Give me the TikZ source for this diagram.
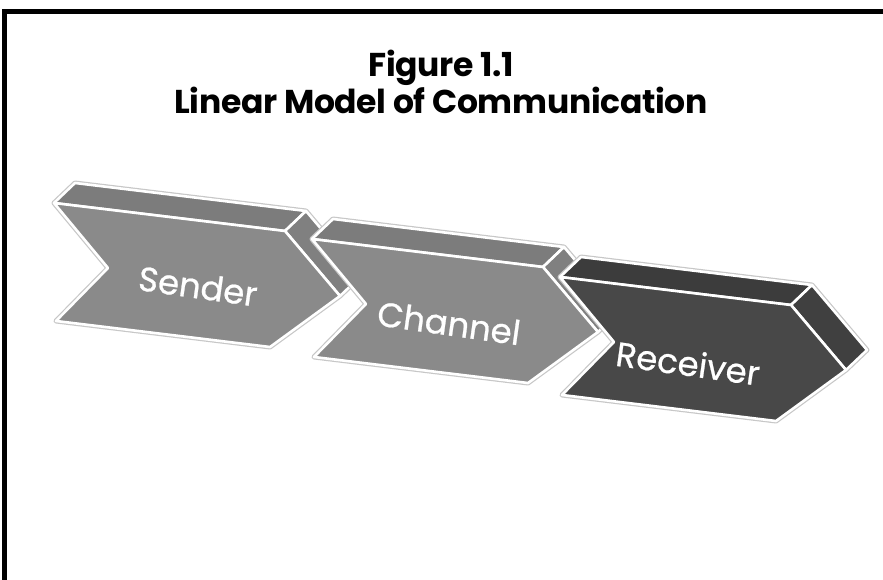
\documentclass[tikz,border=0pt]{standalone}
\usepackage{fontspec}
\setmainfont{Poppins}[Numbers=Proportional]
\newfontfamily\titlefont{Poppins}[Numbers=Proportional, LetterSpace=-1]
\newfontfamily\labelfont{Poppins}[FakeBold=0.7]
\begin{document}
\begin{tikzpicture}[x=1pt,y=-1pt,
  facestroke/.style={draw=white, line width=2.6pt, line join=round},
  halo/.style={draw=black!22, line width=5pt, line join=round},
  titlestyle/.style={font=\titlefont\fontsize{33}{36}\selectfont\bfseries, text=black, inner sep=0pt},
  chevlabel/.style={font=\labelfont\fontsize{34}{36}\selectfont, text=white, inner sep=0pt, rotate=-8}]
\useasboundingbox (0,0) rectangle (883,580);
\fill[white] (0,0) rectangle (883,580);
\draw[line width=5pt, line join=miter] (4.5,580) -- (4.5,12) -- (883,12);
\newcommand\mychev[5]{%
\begin{scope}[shift={(#1,#2)}]
  \path[halo] (54,203)--(75,183)--(306,211)--(361,276)--(340,296)--(270,347)--(56,321)--(108,268)--cycle;
  \filldraw[fill=#4, facestroke] (54,203)--(75,183)--(306,211)--(285,231)--cycle;
  \filldraw[fill=#5, facestroke] (285,231)--(306,211)--(361,276)--(340,296)--cycle;
  \filldraw[fill=#3, facestroke] (54,203)--(285,231)--(340,296)--(270,347)--(56,321)--(108,268)--cycle;
\end{scope}}
\definecolor{gfront}{RGB}{138,138,138}
\definecolor{gtop}{RGB}{124,124,124}
\definecolor{gside}{RGB}{128,128,128}
\definecolor{dfront}{RGB}{72,72,72}
\definecolor{dtop}{RGB}{60,60,60}
\definecolor{dside}{RGB}{64,64,64}
\mychev{0}{0}{gfront}{gtop}{gside}
\mychev{258}{36}{gfront}{gtop}{gside}
\mychev{506}{74}{dfront}{dtop}{dside}
\node[titlestyle, anchor=base] (t1) at (441,77) {Figure 1.1};
\node[titlestyle, anchor=base] (t2) at (441,114) {Linear Model of Communication};
\node[chevlabel] (sender) at (198,286) {Sender};
\node[chevlabel] (channel) at (449,323) {Channel};
\node[chevlabel] (receiver) at (688,363) {Receiver};
\end{tikzpicture}
\end{document}
